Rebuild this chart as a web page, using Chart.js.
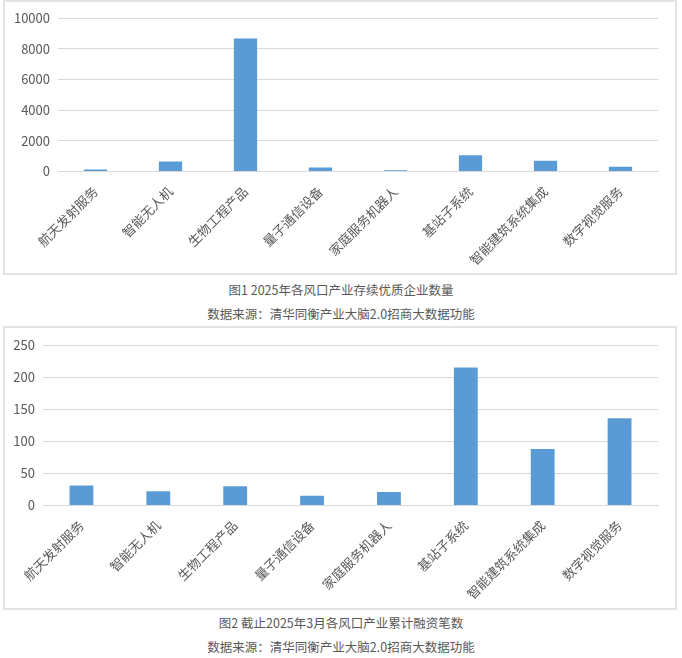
<!DOCTYPE html>
<html>
<head>
<meta charset="utf-8">
<script src="https://cdn.jsdelivr.net/npm/chart.js@4"></script>
<style>
  body { margin: 0; background: #fff; font-family: "Noto Sans CJK SC", sans-serif; }
  .box { position: absolute; left: 3px; width: 670px; border: 2px solid #e3e3e3; background: #fff; }
  .box canvas { display: block; }
  .cap { position: absolute; left: 0; width: 682px; text-align: center; font-size: 12.5px; color: #595959; }
</style>
</head>
<body>
<div class="box" style="top:0px;height:271px"><canvas id="c1" width="670" height="271"></canvas></div>
<div class="cap" style="top:280px">图1 2025年各风口产业存续优质企业数量</div>
<div class="cap" style="top:304px">数据来源：清华同衡产业大脑2.0招商大数据功能</div>
<div class="box" style="top:326px;height:280px"><canvas id="c2" width="670" height="280"></canvas></div>
<div class="cap" style="top:613px">图2 截止2025年3月各风口产业累计融资笔数</div>
<div class="cap" style="top:637px">数据来源：清华同衡产业大脑2.0招商大数据功能</div>
<script>
const categories = ["航天发射服务", "智能无人机", "生物工程产品", "量子通信设备", "家庭服务机器人", "基站子系统", "智能建筑系统集成", "数字视觉服务"];
const companyCounts = [130, 650, 8670, 260, 80, 1050, 700, 300];
const financingCounts = [31, 22, 30, 15, 21, 215, 88, 136];
const yTicks1 = [0, 2000, 4000, 6000, 8000, 10000];
const yTicks2 = [0, 50, 100, 150, 200, 250];

const FONT = "'Noto Sans CJK SC', sans-serif";

function makeChart(id, values, ticks, yWidth, pad) {
  new Chart(document.getElementById(id), {
    type: "bar",
    data: {
      labels: categories,
      datasets: [{
        data: values,
        backgroundColor: "#5b9bd5",
        categoryPercentage: 1,
        barPercentage: 0.31,
      }],
    },
    options: {
      responsive: false,
      animation: false,
      layout: { padding: pad },
      plugins: { legend: { display: false }, tooltip: { enabled: false } },
      scales: {
        x: {
          grid: { display: false },
          border: { color: "#d9d9d9", width: 1 },
          ticks: {
            color: "#595959",
            font: { family: FONT, size: 13 },
            maxRotation: 45,
            minRotation: 45,
            padding: 4,
          },
        },
        y: {
          min: 0,
          max: ticks[ticks.length - 1],
          afterFit: (s) => { s.width = yWidth; },
          afterBuildTicks: (s) => { s.ticks = ticks.map((v) => ({ value: v })); },
          grid: { color: "#d9d9d9", drawTicks: false },
          border: { display: false },
          ticks: {
            color: "#595959",
            font: { family: FONT, size: 13 },
            padding: 8,
            callback: (v) => String(v),
          },
        },
      },
    },
  });
}

makeChart("c1", companyCounts, yTicks1, 53, { top: 16, right: 17, left: 0, bottom: 1 });
makeChart("c2", financingCounts, yTicks2, 38, { top: 17, right: 17, left: 0, bottom: 2 });
</script>
</body>
</html>
